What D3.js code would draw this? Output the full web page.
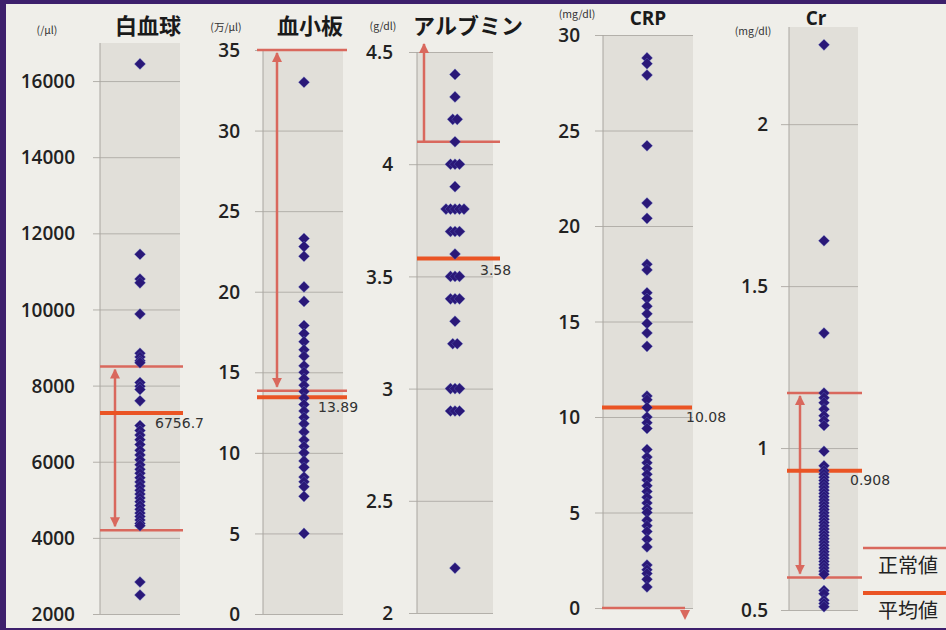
<!DOCTYPE html>
<html><head><meta charset="utf-8">
<script src="https://cdn.jsdelivr.net/npm/d3@7"></script>
<style>html,body{margin:0;padding:0;background:#efeee9;} svg{display:block}</style>
</head><body><svg id="c" width="946" height="630"></svg>
<script>
// ---------------- DATA ----------------
const panelTitles = ["白血球", "血小板", "アルブミン", "CRP", "Cr"];
const panelUnits = ["(/μl)", "(万/μl)", "(g/dl)", "(mg/dl)", "(mg/dl)"];

const wbcTicks = [2000, 4000, 6000, 8000, 10000, 12000, 14000, 16000];
const pltTicks = [0, 5, 10, 15, 20, 25, 30, 35];
const albTicks = [2, 2.5, 3, 3.5, 4, 4.5];
const crpTicks = [0, 5, 10, 15, 20, 25, 30];
const crTicks = [0.5, 1, 1.5, 2];

const wbcValues = [16450, 11450, 10800, 10700, 9880, 8850, 8750, 8650, 8600, 8080, 7980, 7900, 7600,
  6950, 6820, 6700, 6580, 6450, 6300, 6180, 6050, 5920, 5800, 5700, 5580, 5470, 5360, 5250, 5150,
  5050, 4950, 4850, 4750, 4650, 4560, 4470, 4380, 4320, 2840, 2500];
const pltValues = [33.0, 23.3, 22.8, 22.2, 20.3, 19.4, 17.9, 17.4, 16.9, 16.4, 16.0, 15.4, 15.0, 14.6,
  14.2, 13.8, 13.4, 13.0, 12.6, 12.2, 11.8, 11.3, 10.8, 10.4, 10.0, 9.5, 9.1, 8.5, 8.2, 7.9, 7.3, 5.0];
const albValues = [4.4, 4.3, 4.2, 4.2, 4.1, 4.0, 4.0, 4.0, 3.9, 3.8, 3.8, 3.8, 3.8, 3.8, 3.7, 3.7, 3.7,
  3.6, 3.5, 3.5, 3.5, 3.4, 3.4, 3.4, 3.3, 3.2, 3.2, 3.0, 3.0, 3.0, 2.9, 2.9, 2.9, 2.2];
const crpValues = [28.8, 28.5, 27.9, 24.2, 21.2, 20.4, 18.0, 17.7, 16.5, 16.2, 15.8, 15.4, 14.9, 14.4,
  13.7, 11.1, 10.9, 10.5, 10.0, 9.7, 9.4, 8.3, 7.9, 7.6, 7.3, 7.0, 6.7, 6.4, 6.1, 5.8, 5.5, 5.2, 5.0,
  4.6, 4.3, 4.0, 3.6, 3.2, 2.25, 2.0, 1.8, 1.5, 1.1];
const crValues = [2.245, 1.64, 1.355, 1.17, 1.155, 1.14, 1.12, 1.10, 1.085, 1.07, 0.99, 0.945, 0.93,
  0.92, 0.91, 0.90, 0.89, 0.88, 0.87, 0.86, 0.85, 0.84, 0.83, 0.82, 0.81, 0.80, 0.79, 0.78, 0.77, 0.76,
  0.75, 0.74, 0.73, 0.72, 0.71, 0.70, 0.69, 0.68, 0.67, 0.66, 0.65, 0.64, 0.63, 0.62, 0.61, 0.56, 0.55,
  0.53, 0.52, 0.51];

const domains = [[2000, 17000], [0, 35], [2, 4.5], [0, 30], [0.5, 2.3]];
const normalLow = [4200, 13.85, 4.1, null, 0.6];
const normalHigh = [8500, 35, null, 0, 1.17];
const normalArrow = ["both", "both", "up", "down", "both"];
const meanLine = [7280, 13.45, 3.58, 10.5, 0.93];
const meanLabels = ["6756.7", "13.89", "3.58", "10.08", "0.908"];
const legendLabels = ["正常値", "平均値"];

// ---------------- LAYOUT ----------------
const layout = [
  {bx0: 100, bx1: 180, gx0: 93, lx0: 100, lx1: 183, top: 43, bottom: 614, tickX: 75, dotX: 140, arrowX: 115,
   unitX: 47, unitY: 34, titleX: 148, titleY: 34, labX: 155, labY: 428},
  {bx0: 263, bx1: 343, gx0: 255, lx0: 257, lx1: 347, top: 50, bottom: 614, tickX: 240, dotX: 304, arrowX: 277,
   unitX: 226, unitY: 31, titleX: 310, titleY: 34, labX: 318, labY: 412},
  {bx0: 417, bx1: 493, gx0: 409, lx0: 417, lx1: 500, top: 52, bottom: 613, tickX: 393, dotX: 455, arrowX: 424,
   unitX: 383, unitY: 30, titleX: 468, titleY: 34, labX: 480, labY: 275},
  {bx0: 603, bx1: 693, gx0: 595, lx0: 602, lx1: 692, top: 35, bottom: 608, tickX: 580, dotX: 647, arrowX: 685,
   unitX: 577, unitY: 18, titleX: 648, titleY: 25, labX: 686, labY: 422},
  {bx0: 789, bx1: 858, gx0: 781, lx0: 787, lx1: 862, top: 27, bottom: 610, tickX: 768, dotX: 824, arrowX: 800,
   unitX: 753, unitY: 35, titleX: 816, titleY: 25, labX: 850, labY: 485}
];
const tickSets = [wbcTicks, pltTicks, albTicks, crpTicks, crTicks];
const valueSets = [wbcValues, pltValues, albValues, crpValues, crValues];

const RED = "#d9685d", ORANGE = "#ea5424", DOT = "#2a1878";

const svg = d3.select("#c");
svg.append("rect").attr("width", 946).attr("height", 630).attr("fill", "#efeee9");

const defs = svg.append("defs");
defs.append("marker").attr("id", "ah").attr("viewBox", "0 0 10 10").attr("refX", 9).attr("refY", 5)
  .attr("markerWidth", 4).attr("markerHeight", 4).attr("orient", "auto-start-reverse")
  .attr("markerUnits", "strokeWidth")
  .append("path").attr("d", "M0,0L10,5L0,10Z").attr("fill", RED);

const diamond = d3.symbol(d3.symbolSquare, 62);

layout.forEach((L, i) => {
  const g = svg.append("g");
  const y = d3.scaleLinear().domain(domains[i]).range([L.bottom, L.top]);
  // band
  g.append("rect").attr("x", L.bx0).attr("y", L.top).attr("width", L.bx1 - L.bx0)
    .attr("height", L.bottom - L.top).attr("fill", "#e1dfd9");
  // axis with gridlines
  const axis = d3.axisLeft(y).tickValues(tickSets[i]).tickSize(L.bx1 - L.gx0).tickPadding(0)
    .tickFormat(d3.format("~g"));
  const ag = g.append("g").attr("transform", `translate(${L.bx1},0)`).call(axis);
  ag.select(".domain").remove();
  ag.selectAll(".tick line").attr("stroke", "#b3b0aa").attr("stroke-width", 1);
  ag.selectAll(".tick text").attr("x", -(L.bx1 - L.tickX)).attr("dy", "0.35em")
    .attr("font-family", "'Open Sans', sans-serif").attr("font-weight", 600)
    .attr("font-size", 19).attr("fill", "#222");
  g.append("line").attr("x1", L.bx0).attr("x2", L.bx0).attr("y1", L.top).attr("y2", L.bottom)
    .attr("stroke", "#a9a6a0").attr("stroke-width", 1);
  // title & unit
  g.append("text").attr("x", L.titleX).attr("y", L.titleY).attr("text-anchor", "middle")
    .attr("font-family", i >= 3 ? "'Open Sans', sans-serif" : "'Noto Sans CJK JP', sans-serif")
    .attr("font-weight", 700).attr("font-size", i >= 3 ? 19 : 22).attr("fill", "#1a1a1a")
    .text(panelTitles[i]);
  g.append("text").attr("x", L.unitX).attr("y", L.unitY).attr("text-anchor", "middle")
    .attr("font-family", "'Noto Sans CJK JP', sans-serif").attr("font-size", 10.5).attr("fill", "#333")
    .text(panelUnits[i]);
  // normal lines
  [normalLow[i], normalHigh[i]].forEach(v => {
    if (v === null) return;
    g.append("line").attr("x1", L.lx0).attr("x2", i === 3 ? L.arrowX : L.lx1)
      .attr("y1", y(v)).attr("y2", y(v)).attr("stroke", RED).attr("stroke-width", 2.5);
  });
  // arrows
  const ar = normalArrow[i];
  if (ar === "both") {
    g.append("line").attr("x1", L.arrowX).attr("x2", L.arrowX)
      .attr("y1", y(normalLow[i]) - 4).attr("y2", y(normalHigh[i]) + 3)
      .attr("stroke", RED).attr("stroke-width", 2.5)
      .attr("marker-start", "url(#ah)").attr("marker-end", "url(#ah)");
  } else if (ar === "up") {
    g.append("line").attr("x1", L.arrowX).attr("x2", L.arrowX)
      .attr("y1", y(normalLow[i])).attr("y2", L.top - 8)
      .attr("stroke", RED).attr("stroke-width", 2.5).attr("marker-end", "url(#ah)");
  } else if (ar === "down") {
    const y0 = y(normalHigh[i]);
    g.append("path").attr("d", `M${L.arrowX - 5},${y0 + 2}L${L.arrowX + 5},${y0 + 2}L${L.arrowX},${y0 + 12}Z`)
      .attr("fill", RED);
  }
  // mean line
  g.append("line").attr("x1", L.lx0).attr("x2", L.lx1).attr("y1", y(meanLine[i])).attr("y2", y(meanLine[i]))
    .attr("stroke", ORANGE).attr("stroke-width", 4);
  // dots with offset for duplicates
  const counts = d3.rollup(valueSets[i], v => v.length, d => d);
  const seen = new Map();
  const pts = valueSets[i].map(v => {
    const k = seen.get(v) || 0; seen.set(v, k + 1);
    const n = counts.get(v);
    return {v, off: (k - (n - 1) / 2) * 4.5};
  });
  g.selectAll("path.dot").data(pts).join("path").attr("class", "dot")
    .attr("d", diamond)
    .attr("transform", d => `translate(${L.dotX + d.off},${y(d.v)}) rotate(45)`)
    .attr("fill", DOT).attr("stroke", "#6f86d6").attr("stroke-width", 0.5).attr("stroke-opacity", 0.6);
  // mean label
  g.append("text").attr("x", L.labX).attr("y", L.labY)
    .attr("font-family", "'DejaVu Sans', sans-serif").attr("font-size", 14).attr("fill", "#333")
    .text(meanLabels[i]);
});

// legend
const lg = svg.append("g");
legendLabels.forEach((t, k) => {
  const yy = k === 0 ? 548 : 593;
  lg.append("line").attr("x1", 863).attr("x2", 946).attr("y1", yy).attr("y2", yy)
    .attr("stroke", k === 0 ? RED : ORANGE).attr("stroke-width", k === 0 ? 2.5 : 4);
  lg.append("text").attr("x", 908).attr("y", yy + 25).attr("text-anchor", "middle")
    .attr("font-family", "'Noto Sans CJK JP', sans-serif").attr("font-size", 20).attr("fill", "#222")
    .text(t);
});

// frame
svg.append("rect").attr("x", 0).attr("y", 0).attr("width", 6).attr("height", 630).attr("fill", "#3d1f6c");
svg.append("rect").attr("x", 0).attr("y", 0).attr("width", 946).attr("height", 4).attr("fill", "#3d1f6c");
svg.append("rect").attr("x", 0).attr("y", 628).attr("width", 946).attr("height", 2).attr("fill", "#3d1f6c");
</script></body></html>
